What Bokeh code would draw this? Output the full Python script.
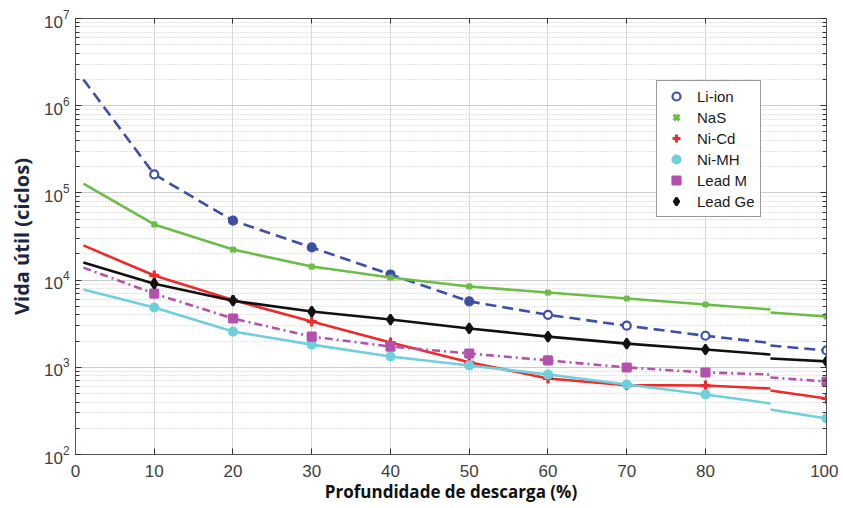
from bokeh.plotting import figure
from bokeh.models import (FixedTicker, LinearAxis, LogAxis, Legend, LegendItem,
                          ColumnDataSource, Range1d)
from bokeh.embed import file_html
from bokeh.resources import INLINE

# ---------------- data ----------------
series = ["Li-ion", "NaS", "Ni-Cd", "Ni-MH", "Lead M", "Lead Ge"]
dod_markers = [10, 20, 30, 40, 50, 60, 70, 80, 100]   # marker positions (%)
dod_start = 1                                          # curves start near 0 %
dod_break = 90                                         # the picture is cut here

li_ion  = [1.63e5, 4.8e4, 2.37e4, 1.16e4, 5.7e3, 4.0e3, 3.0e3, 2.3e3, 1.56e3]
nas     = [4.35e4, 2.24e4, 1.43e4, 1.07e4, 8.45e3, 7.2e3, 6.15e3, 5.25e3, 3.83e3]
ni_cd   = [1.13e4, 5.9e3, 3.35e3, 1.92e3, 1.14e3, 745, 625, 618, 439]
ni_mh   = [4.85e3, 2.57e3, 1.82e3, 1.33e3, 1.05e3, 826, 635, 488, 259]
lead_m  = [7.0e3, 3.63e3, 2.25e3, 1.73e3, 1.44e3, 1.2e3, 995, 872, 687]
lead_ge = [9.1e3, 5.8e3, 4.36e3, 3.53e3, 2.79e3, 2.25e3, 1.87e3, 1.6e3, 1.17e3]

start_values = [2.0e6, 1.28e5, 2.5e4, 7.8e3, 1.39e4, 1.59e4]
break_before = [1.9e3, 4.6e3, 571, 385, 826, 1.4e3]
break_after  = [1.78e3, 4.25e3, 542, 328, 764, 1.26e3]

x_tick_labels = [0, 10, 20, 30, 40, 50, 60, 70, 80, 100]
y_decades = [1e2, 1e3, 1e4, 1e5, 1e6, 1e7]

# ---------------- styles ----------------
colors = ["#3d4fa6", "#6cbd45", "#ee2b2b", "#6fcfdb", "#b551ad", "#111111"]
dashes = ["11 6", "solid", "solid", "solid", "8 4 2 4", "solid"]
markers = ["circle", "x", "cross", "circle", "square", "diamond"]
msizes = [8, 7, 10, 8, 8, 10]
li_fill = ["white", "#3d4fa6", "#3d4fa6", "#3d4fa6", "#3d4fa6", "white", "white", "white", "white"]


# the 80-100 part of the original axis is compressed (the picture was cut at ~90)
def xpos(d):
    if d <= 80:
        return d
    if d <= 90:
        return 80 + (d - 80) * 0.825
    return 88.25 + (d - 90) * 0.712


X_END = xpos(100)

p = figure(frame_width=751, frame_height=436, y_axis_type="log",
           x_range=Range1d(0, X_END), y_range=Range1d(1e2, 1e7),
           output_backend="svg", toolbar_location=None,
           min_border_left=75, min_border_right=12, min_border_top=18,
           min_border_bottom=50)
p.background_fill_color = "white"
p.border_fill_color = "white"
p.outline_line_color = "#555555"
p.outline_line_width = 1

all_values = [li_ion, nas, ni_cd, ni_mh, lead_m, lead_ge]
legend_items = []
for i, name in enumerate(series):
    vals = all_values[i]
    main_x = [xpos(dod_start)] + [xpos(d) for d in dod_markers[:-1]] + [xpos(dod_break)]
    main_y = [start_values[i]] + vals[:-1] + [break_before[i]]
    tail_x = [xpos(dod_break), xpos(dod_markers[-1])]
    tail_y = [break_after[i], vals[-1]]
    p.line(main_x, main_y, line_color=colors[i], line_width=2.6, line_dash=dashes[i])
    p.line(tail_x, tail_y, line_color=colors[i], line_width=2.6, line_dash=dashes[i])
    src = ColumnDataSource(dict(x=[xpos(d) for d in dod_markers], y=vals,
                                fc=li_fill if i == 0 else [colors[i]] * len(vals)))
    if markers[i] in ("x", "cross"):
        r = p.scatter("x", "y", source=src, marker=markers[i], size=msizes[i],
                      line_color=colors[i], line_width=3.2)
    else:
        r = p.scatter("x", "y", source=src, marker=markers[i], size=msizes[i],
                      fill_color="fc", line_color=colors[i], line_width=2.2)
    legend_items.append(LegendItem(label=name, renderers=[r]))

# ---------------- axes ----------------
x_positions = [xpos(v) for v in x_tick_labels]
xticker = FixedTicker(ticks=x_positions)
minor_y = [m * 10 ** e for e in range(2, 7) for m in range(2, 10)]
yticker = FixedTicker(ticks=y_decades, minor_ticks=minor_y)
overrides = {x_positions[-1]: "100"}

font = "Liberation Sans"
lab_col = "#404040"

xa = p.xaxis[0]
xa.ticker = xticker
xa.major_label_overrides = overrides
xa.axis_label = "Profundidade de descarga (%)"
xa.axis_label_text_font = "Open Sans"
xa.axis_label_text_font_style = "bold"
xa.axis_label_text_font_size = "17px"
xa.axis_label_text_color = "#111111"
xa.axis_label_standoff = 0

ya = p.yaxis[0]
ya.ticker = yticker
ya.axis_label = "Vida útil (ciclos)"
ya.axis_label_text_font = "Open Sans"
ya.axis_label_text_font_style = "bold"
ya.axis_label_text_font_size = "20px"
ya.axis_label_text_color = "#1c2442"
ya.axis_label_standoff = 6

for ax in (xa, ya):
    ax.major_label_text_font = font
    ax.major_label_text_font_size = "17px"
    ax.major_label_text_color = lab_col
    ax.axis_line_color = "#555555"
    ax.major_tick_line_color = "#333333"
    ax.minor_tick_line_color = "#333333"
    ax.major_tick_in = 6
    ax.major_tick_out = 0
    ax.minor_tick_in = 4
    ax.minor_tick_out = 0
xa.major_label_standoff = 10
ya.major_label_standoff = 6
xa.minor_tick_line_color = None

# mirrored inward ticks on top and right (labels not painted)
top = LinearAxis(ticker=xticker, major_label_text_color=None,
                 major_label_text_font_size="15px", major_label_standoff=-17,
                 major_tick_in=5, major_tick_out=0,
                 minor_tick_line_color=None, axis_line_color="#555555",
                 major_tick_line_color="#333333")
right = LogAxis(ticker=yticker, major_label_text_color=None,
                major_label_text_font_size="15px", major_label_standoff=-30,
                major_tick_in=6, major_tick_out=0,
                minor_tick_in=4, minor_tick_out=0, axis_line_color="#555555",
                major_tick_line_color="#333333", minor_tick_line_color="#333333")
p.add_layout(top, "above")
p.add_layout(right, "right")

# ---------------- grids ----------------
p.xgrid.grid_line_color = "#d8d8d8"
p.xgrid.grid_line_width = 1
p.ygrid.grid_line_color = "#cccccc"
p.ygrid.grid_line_width = 1
p.ygrid.minor_grid_line_color = "#c8c8c8"
p.ygrid.minor_grid_line_dash = "1 2"
p.ygrid.minor_grid_line_width = 1

# ---------------- legend ----------------
legend = Legend(items=legend_items, location=(581, 237),
                label_text_font=font, label_text_font_size="15px",
                label_text_color="#1a1a1a", border_line_color="#333333",
                border_line_width=1, background_fill_color="white",
                background_fill_alpha=1, padding=5, spacing=1,
                glyph_width=28, glyph_height=20, label_height=20,
                label_standoff=7, margin=0)
p.add_layout(legend)

open("out.html", "w").write(file_html(p, INLINE))
